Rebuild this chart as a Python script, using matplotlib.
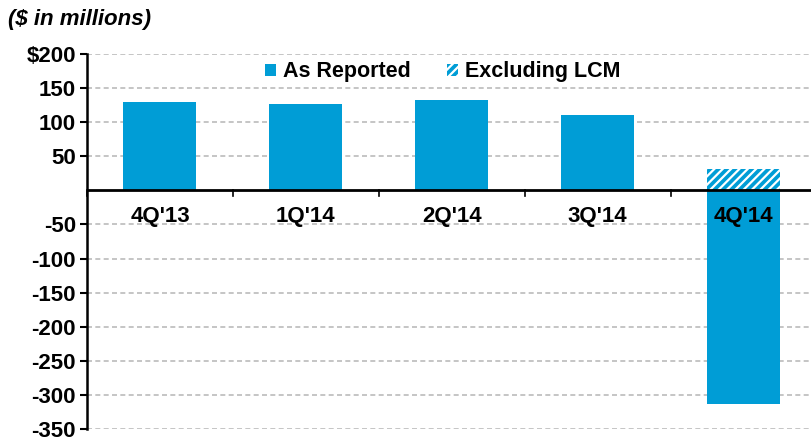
import numpy as np
import matplotlib.pyplot as plt
from matplotlib.patches import Patch

plt.rcParams['font.family'] = ['Liberation Sans', 'DejaVu Sans']
plt.rcParams['hatch.color'] = 'white'
plt.rcParams['hatch.linewidth'] = 1.6

quarters = ["4Q'13", "1Q'14", "2Q'14", "3Q'14", "4Q'14"]
as_reported = [129, 126, 132, 110, -313]
excl_lcm = [None, None, None, None, 31]
yticks = [200, 150, 100, 50, -50, -100, -150, -200, -250, -300, -350]
ytick_labels = ['$200', '150', '100', '50', '-50', '-100', '-150', '-200', '-250', '-300', '-350']

blue = '#009DD6'

fig = plt.figure(figsize=(8.12, 4.41), dpi=100)
ax = fig.add_axes([87/812, 12/441, 1 - 87/812, 375/441])

x = np.arange(len(quarters))
ax.bar(x, as_reported, width=0.5, color=blue, zorder=3)
for i, v in enumerate(excl_lcm):
    if v is not None:
        ax.bar(i, v, width=0.5, color=blue, hatch='////', edgecolor='white', linewidth=0, zorder=3)

ax.set_ylim(-350, 200)
ax.set_xlim(-0.5, 4.47)
ax.set_yticks(yticks)
ax.set_yticklabels(ytick_labels, fontsize=16, fontweight='bold')
ax.yaxis.grid(True, linestyle=(0, (3, 2)), color='#BBBBBB', linewidth=1.2, zorder=0)
ax.tick_params(axis='y', length=5, width=1.5, direction='out', pad=3)
ax.set_xticks([])

for s in ['top', 'right', 'bottom']:
    ax.spines[s].set_visible(False)
ax.spines['left'].set_linewidth(1.8)

ax.axhline(0, color='black', linewidth=2, zorder=4)
for b in np.arange(-0.5, 4.6, 1.0):
    ax.plot([b, b], [0, -8], color='black', linewidth=1.2, zorder=4, clip_on=False)

for i, q in enumerate(quarters):
    ax.text(i, -38, q, ha='center', va='center', fontsize=16, fontweight='bold', zorder=5)

handles = [Patch(facecolor=blue, label='As Reported'),
           Patch(facecolor=blue, hatch='////', edgecolor='white', linewidth=0, label='Excluding LCM')]
leg = ax.legend(handles=handles, loc='center', bbox_to_anchor=(0.491, 0.952), ncol=2,
                frameon=False, prop={'weight': 'bold', 'size': 15.5}, handlelength=0.48,
                handleheight=0.48, handletextpad=0.35, columnspacing=1.7)

fig.text(8/812, 1 - 20/441, '($ in millions)', fontsize=16, fontweight='bold', style='italic', va='center')

fig.savefig('out.png', dpi=100)
